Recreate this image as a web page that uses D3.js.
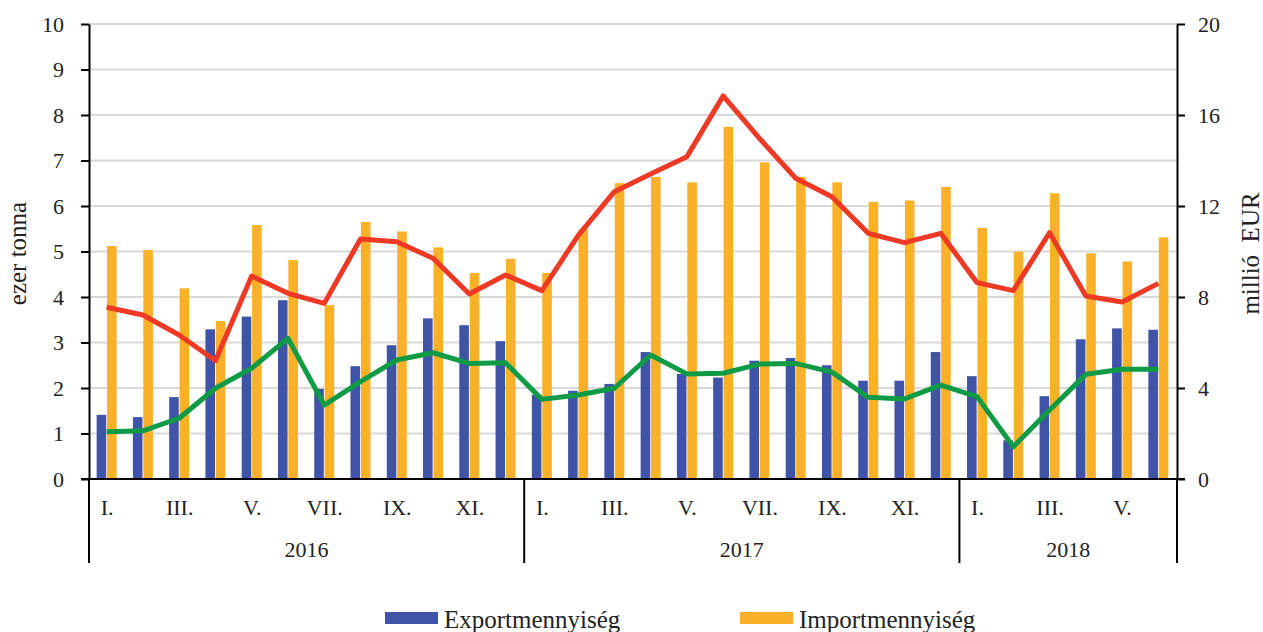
<!DOCTYPE html>
<html>
<head>
<meta charset="utf-8">
<script src="https://cdn.jsdelivr.net/npm/d3@7"></script>
<style>
  body { margin: 0; background: #fff; }
  text { font-family: "Liberation Serif", "Times New Roman", serif; fill: #222; }
</style>
</head>
<body>
<div id="canvas"></div>
<script>
const canvas = d3.select("#canvas");

// data
const years = ["2016", "2017", "2018"];
const monthsPerYear = [12, 12, 6];
const romanMonths = ["I.", "II.", "III.", "IV.", "V.", "VI.", "VII.", "VIII.", "IX.", "X.", "XI.", "XII."];
const exportQty = [1.41, 1.36, 1.8, 3.29, 3.57, 3.93, 1.98, 2.48, 2.94, 3.53, 3.38, 3.03,
  1.85, 1.94, 2.09, 2.79, 2.31, 2.23, 2.6, 2.66, 2.5, 2.16, 2.16, 2.79,
  2.26, 0.85, 1.82, 3.07, 3.31, 3.28];
const importQty = [5.12, 5.03, 4.19, 3.47, 5.58, 4.81, 3.82, 5.65, 5.44, 5.09, 4.53, 4.84,
  4.53, 5.49, 6.5, 6.64, 6.52, 7.74, 6.96, 6.64, 6.52, 6.09, 6.12, 6.42,
  5.52, 5.0, 6.28, 4.96, 4.78, 5.31];
const importValue = [7.55, 7.21, 6.33, 5.2, 8.92, 8.16, 7.72, 10.55, 10.43, 9.7, 8.13, 8.97,
  8.28, 10.7, 12.63, 13.41, 14.17, 16.84, 14.97, 13.22, 12.41, 10.8, 10.39, 10.8,
  8.63, 8.28, 10.83, 8.04, 7.78, 8.6];
const exportValue = [2.08, 2.12, 2.67, 3.99, 4.87, 6.18, 3.25, 4.28, 5.23, 5.55, 5.08, 5.11,
  3.5, 3.69, 3.99, 5.45, 4.62, 4.65, 5.05, 5.08, 4.7, 3.59, 3.52, 4.13,
  3.62, 1.42, 3.03, 4.6, 4.82, 4.82];
const leftTicks = [0, 1, 2, 3, 4, 5, 6, 7, 8, 9, 10];
const rightTicks = [0, 4, 8, 12, 16, 20];

// categories: one per month
const cats = [];
years.forEach((y, i) => {
  for (let m = 0; m < monthsPerYear[i]; m++) cats.push({ year: y, month: m, key: y + "-" + m });
});

const width = 1263;
const height = 632;
const margin = { top: 24, left: 89, bottom: 153, right: 86 };
const iwidth = width - margin.left - margin.right;
const iheight = height - margin.top - margin.bottom;

const blue = "#3f54a6";
const orange = "#fbb02a";
const red = "#ee3a24";
const green = "#0f9a46";

const svg = canvas.append("svg").attr("width", width).attr("height", height);
const g = svg.append("g").attr("transform", `translate(${margin.left},${margin.top})`);

const x = d3.scaleBand().domain(cats.map((d) => d.key)).range([0, iwidth]).padding(0);
const xs = d3.scaleBand().domain(["exp", "imp"]).range([-10, 10]).paddingInner(0.08);
const yL = d3.scaleLinear().domain([0, 10]).range([iheight, 0]);
const yR = d3.scaleLinear().domain([0, 20]).range([iheight, 0]);
const cx = (i) => x(cats[i].key) + x.bandwidth() / 2 - 0.5;

// gridlines
g.append("g")
  .selectAll("line")
  .data(leftTicks.filter((t) => t > 0))
  .enter()
  .append("line")
  .attr("x1", 0)
  .attr("x2", iwidth)
  .attr("y1", (d) => yL(d))
  .attr("y2", (d) => yL(d))
  .attr("stroke", "#d9d9d9")
  .attr("stroke-width", 2);

// bars
const groups = g.selectAll(".grp").data(cats).enter().append("g")
  .attr("transform", (d, i) => `translate(${cx(i)},0)`);
groups.append("rect")
  .attr("x", xs("exp"))
  .attr("width", xs.bandwidth())
  .attr("y", (d, i) => yL(exportQty[i]))
  .attr("height", (d, i) => iheight - yL(exportQty[i]))
  .attr("fill", blue);
groups.append("rect")
  .attr("x", xs("imp"))
  .attr("width", xs.bandwidth())
  .attr("y", (d, i) => yL(importQty[i]))
  .attr("height", (d, i) => iheight - yL(importQty[i]))
  .attr("fill", orange);

// lines
const line = (vals) => d3.line().x((d, i) => cx(i)).y((d) => yR(d))(vals);
g.append("path").attr("d", line(importValue)).attr("fill", "none")
  .attr("stroke", red).attr("stroke-width", 5).attr("stroke-linejoin", "round");
g.append("path").attr("d", line(exportValue)).attr("fill", "none")
  .attr("stroke", green).attr("stroke-width", 5).attr("stroke-linejoin", "round");

// left axis
const axL = g.append("g")
  .call(d3.axisLeft(yL).tickValues(leftTicks).tickSize(8).tickPadding(17).tickSizeOuter(0));
axL.select(".domain").attr("stroke", "#000").attr("stroke-width", 2);
axL.selectAll(".tick line").attr("stroke", "#000").attr("stroke-width", 2);
axL.selectAll("text").style("font-size", "22px").style("font-family", "Liberation Serif").attr("fill", "#222");

// right axis
const axR = g.append("g").attr("transform", `translate(${iwidth},0)`)
  .call(d3.axisRight(yR).tickValues(rightTicks).tickSize(8).tickPadding(13).tickSizeOuter(0));
axR.select(".domain").attr("stroke", "#000").attr("stroke-width", 2);
axR.selectAll(".tick line").attr("stroke", "#000").attr("stroke-width", 2);
axR.selectAll("text").style("font-size", "22px").style("font-family", "Liberation Serif").attr("fill", "#222");

// bottom axis line
g.append("line").attr("x1", -8).attr("x2", iwidth + 8).attr("y1", iheight).attr("y2", iheight)
  .attr("stroke", "#000").attr("stroke-width", 2);

// month labels (every second month)
g.selectAll(".mlab").data(cats.filter((d) => d.month % 2 === 0)).enter().append("text")
  .attr("x", (d) => x(d.key) + x.bandwidth() / 2)
  .attr("y", iheight + 36)
  .attr("text-anchor", "middle")
  .style("font-size", "22px")
  .text((d) => romanMonths[d.month]);

// year separators and labels
let start = 0;
const bounds = [0];
monthsPerYear.forEach((n) => { start += n; bounds.push(start); });
g.selectAll(".ysep").data(bounds).enter().append("line")
  .attr("x1", (d) => (d < cats.length ? x(cats[d].key) : iwidth))
  .attr("x2", (d) => (d < cats.length ? x(cats[d].key) : iwidth))
  .attr("y1", iheight)
  .attr("y2", iheight + 84)
  .attr("stroke", "#000").attr("stroke-width", 2);
g.selectAll(".ylab").data(years).enter().append("text")
  .attr("x", (d, i) => {
    const a = x(cats[bounds[i]].key);
    const b = bounds[i + 1] < cats.length ? x(cats[bounds[i + 1]].key) : iwidth;
    return (a + b) / 2;
  })
  .attr("y", iheight + 78)
  .attr("text-anchor", "middle")
  .style("font-size", "22px")
  .text((d) => d);

// axis titles
svg.append("text")
  .attr("transform", `translate(26,${margin.top + iheight / 2 + 2}) rotate(-90)`)
  .attr("text-anchor", "middle")
  .style("font-size", "25px")
  .text("ezer tonna");
svg.append("text")
  .attr("transform", `translate(1259,${margin.top + iheight / 2 + 2}) rotate(-90)`)
  .attr("text-anchor", "middle")
  .style("font-size", "25px")
  .style("white-space", "pre")
  .text("millió  EUR");

// legend
const legendItems = [
  { name: "Exportmennyiség", color: blue, x: 385 },
  { name: "Importmennyiség", color: orange, x: 740 },
];
const lg = svg.selectAll(".leg").data(legendItems).enter().append("g")
  .attr("transform", (d) => `translate(${d.x},612)`);
lg.append("rect").attr("width", 53).attr("height", 12).attr("fill", (d) => d.color);
lg.append("text").attr("x", 59).attr("y", 16).style("font-size", "25px").text((d) => d.name);
</script>
</body>
</html>
